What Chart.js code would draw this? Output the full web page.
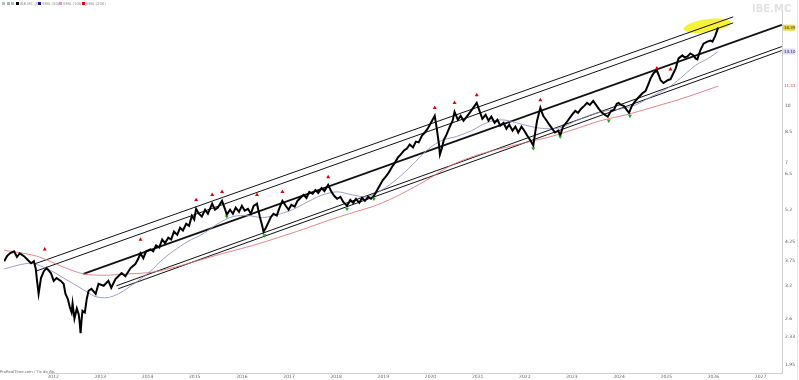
<!DOCTYPE html>
<html><head><meta charset="utf-8">
<script src="https://cdn.jsdelivr.net/npm/chart.js@4.4.1/dist/chart.umd.min.js"></script>
<style>
html,body{margin:0;padding:0;background:#fff;}
#wrap{position:relative;width:799px;height:380px;overflow:hidden;background:#fff;}
#c{position:absolute;left:0;top:0;}
.lg{position:absolute;top:1px;font:3.8px "DejaVu Sans",sans-serif;color:#888;white-space:nowrap;line-height:6px;}
.sq{position:absolute;top:2px;width:3px;height:3px;}
#wm{position:absolute;left:752px;top:3px;font:bold 10px "DejaVu Sans",sans-serif;color:#e2e2e2;}
#src{position:absolute;left:0;top:369px;width:47px;height:6px;background:#fff;font:3.8px "DejaVu Sans",sans-serif;color:#666;line-height:6px;white-space:nowrap;}
</style></head>
<body><div id="wrap">
<canvas id="c" width="799" height="380"></canvas>
<div class="sq" style="left:2px;background:#bbb"></div>
<div class="sq" style="left:7px;background:#9cb8a8"></div>
<div class="sq" style="left:11px;background:#bbb"></div>
<div class="sq" style="left:16px;background:#000"></div><div class="lg" style="left:20px">IBE.MC (W)</div>
<div class="sq" style="left:38px;background:#1a1a8c"></div><div class="lg" style="left:42px">SMA (50)</div>
<div class="sq" style="left:59px;background:#f08ad0"></div><div class="lg" style="left:63px">SMA (100)</div>
<div class="sq" style="left:82px;background:#e00000"></div><div class="lg" style="left:86px">SMA (200)</div>
<div id="wm">IBE.MC</div>
<div id="src">ProRealTime.com / Tic de Ab.</div>
</div>
<script>
// ---- x axis (years) and y axis (log price) tick labels ----
const years = [2012,2013,2014,2015,2016,2017,2018,2019,2020,2021,2022,2023,2024,2025,2026,2027];
const yTicks = [10, 8.5, 7, 6.5, 5.2, 4.25, 3.75, 3.2, 2.6, 2.33, 1.95];

// ---- weekly price (decimal year / value) ----
const priceDates = [
2010.96,2011.02,2011.08,2011.17,2011.23,2011.29,2011.38,2011.44,2011.53,2011.59,2011.63,2011.65,2011.69,2011.74,2011.80,2011.86,2011.95,
2012.01,2012.07,2012.16,2012.22,2012.26,2012.31,2012.35,2012.39,2012.41,2012.45,2012.50,2012.54,2012.56,2012.58,2012.60,2012.62,2012.67,2012.71,2012.75,2012.81,2012.90,2012.96,
2013.07,2013.17,2013.23,2013.32,2013.38,2013.45,2013.53,2013.64,2013.74,2013.80,2013.85,2013.91,2013.97,
2014.06,2014.12,2014.18,2014.25,2014.31,2014.37,2014.44,2014.50,2014.56,2014.63,2014.69,2014.75,2014.82,2014.88,2014.94,2014.99,
2015.03,2015.09,2015.15,2015.22,2015.28,2015.37,2015.43,2015.49,2015.58,2015.64,2015.68,2015.75,2015.81,2015.87,2015.94,
2016.00,2016.06,2016.13,2016.19,2016.25,2016.32,2016.38,2016.42,2016.46,2016.51,2016.55,2016.61,2016.67,2016.74,2016.80,2016.86,2016.93,2016.99,
2017.05,2017.12,2017.18,2017.24,2017.31,2017.37,2017.43,2017.50,2017.56,2017.62,2017.69,2017.75,2017.83,2017.90,2017.96,
2018.02,2018.09,2018.15,2018.23,2018.30,2018.36,2018.42,2018.49,2018.55,2018.61,2018.68,2018.74,2018.80,2018.87,2018.93,2018.99,
2019.06,2019.12,2019.18,2019.25,2019.31,2019.37,2019.44,2019.50,2019.56,2019.63,2019.69,2019.75,2019.82,2019.88,2019.94,
2020.01,2020.09,2020.13,2020.18,2020.20,2020.24,2020.28,2020.34,2020.41,2020.47,2020.51,2020.58,2020.64,2020.70,2020.77,2020.83,2020.89,2020.98,
2021.04,2021.10,2021.17,2021.23,2021.29,2021.36,2021.42,2021.48,2021.55,2021.61,2021.67,2021.74,2021.80,2021.86,2021.93,2021.99,
2022.05,2022.12,2022.18,2022.22,2022.26,2022.33,2022.39,2022.45,2022.52,2022.58,2022.64,2022.71,2022.75,2022.81,2022.88,2022.94,
2023.00,2023.07,2023.13,2023.19,2023.26,2023.32,2023.38,2023.45,2023.51,2023.57,2023.64,2023.70,2023.76,2023.83,2023.89,2023.95,2023.99,
2024.04,2024.10,2024.16,2024.21,2024.27,2024.33,2024.40,2024.46,2024.50,2024.56,2024.63,2024.67,2024.73,2024.80,2024.84,2024.88,2024.94,
2025.03,2025.09,2025.13,2025.20,2025.26,2025.34,2025.39,2025.45,2025.51,2025.58,2025.62,2025.66,2025.72,2025.79,2025.87,2025.94,2025.98,
2026.04,2026.10];
const priceValues = [
3.75,3.87,3.94,3.99,3.85,3.94,3.87,3.80,3.70,3.75,3.57,3.37,3.05,3.37,3.52,3.59,3.48,
3.31,3.37,3.31,3.25,3.05,2.95,2.81,2.71,2.87,2.61,2.78,2.68,2.55,2.38,2.58,2.74,2.71,2.95,3.11,3.15,3.05,3.25,
3.21,3.31,3.17,3.35,3.41,3.48,3.41,3.59,3.68,3.80,3.94,3.82,3.99,
4.04,3.99,4.14,4.09,4.30,4.20,4.35,4.30,4.52,4.43,4.63,4.55,4.75,4.69,5.00,4.88,
5.22,5.06,4.97,5.19,5.06,5.39,5.19,5.26,5.49,5.22,5.03,5.19,5.06,5.26,5.12,
5.32,5.16,5.22,5.06,5.32,5.39,4.97,4.75,4.52,4.63,4.75,4.94,5.06,5.00,5.26,5.49,5.32,5.19,
5.35,5.29,5.49,5.59,5.70,5.59,5.81,5.74,5.88,5.77,5.95,5.84,6.07,5.81,5.66,
5.56,5.63,5.45,5.32,5.52,5.42,5.56,5.42,5.59,5.49,5.63,5.56,5.66,5.88,6.07,6.26,
6.42,6.58,6.79,7.00,7.22,7.36,7.55,7.64,7.84,7.69,7.98,7.94,8.29,8.45,8.66,
8.99,9.39,8.72,7.84,7.36,7.64,8.04,8.34,8.77,9.11,9.63,9.16,9.39,9.11,9.34,9.57,9.81,10.19,
9.69,9.22,9.45,9.11,9.34,8.99,9.16,8.83,8.99,8.66,8.88,8.55,8.77,8.45,8.77,8.55,
8.29,8.04,7.79,8.45,9.11,9.88,9.39,9.16,8.88,8.66,8.45,8.55,8.29,8.77,8.99,9.22,
9.45,9.69,9.57,9.81,10.00,10.19,10.06,10.32,10.06,9.81,9.57,9.45,9.34,9.69,9.75,10.13,10.19,
10.06,10.00,9.75,9.57,10.00,10.25,10.51,10.71,10.85,10.98,11.55,11.91,12.29,12.52,12.14,11.76,11.55,
11.76,11.84,12.14,12.68,13.50,13.76,13.59,13.67,13.93,13.76,13.50,13.42,14.19,14.82,15.01,15.10,15.01,
15.59,16.39];

// ---- moving averages ----
const smaShortDates = [2010.96,2011.27,2011.53,2011.80,2012.01,2012.22,2012.43,2012.64,2012.86,2013.00,2013.17,2013.38,2013.59,2013.80,2014.06,2014.33,2014.54,2014.86,2015.18,2015.49,2015.81,2016.13,2016.44,2016.76,2017.07,2017.39,2017.71,2018.02,2018.34,2018.66,2018.97,2019.29,2019.61,2019.92,2020.24,2020.55,2020.87,2021.19,2021.50,2021.82,2022.14,2022.45,2022.77,2023.09,2023.40,2023.72,2024.04,2024.35,2024.67,2025.03,2025.30,2025.62,2025.89,2026.10];
const smaShortValues = [3.57,3.66,3.70,3.61,3.50,3.37,3.25,3.13,3.01,2.98,2.98,3.05,3.17,3.31,3.52,3.80,3.99,4.25,4.46,4.75,4.97,5.00,4.94,5.03,5.19,5.45,5.70,5.81,5.70,5.63,5.88,6.30,6.88,7.55,8.04,8.24,8.55,8.99,9.16,8.99,8.77,8.66,8.72,9.11,9.45,9.69,9.81,10.06,10.58,11.19,11.91,12.92,13.50,14.10];
const smaLongDates = [2010.96,2011.65,2012.22,2012.64,2013.07,2013.59,2014.12,2014.65,2015.18,2015.70,2016.23,2016.76,2017.29,2017.81,2018.34,2018.87,2019.39,2019.92,2020.45,2020.98,2021.50,2022.03,2022.56,2023.09,2023.61,2024.14,2024.67,2025.37,2026.10];
const smaLongValues = [4.02,3.87,3.61,3.46,3.43,3.46,3.50,3.63,3.80,3.97,4.14,4.35,4.58,4.84,5.09,5.35,5.74,6.26,6.88,7.32,7.64,7.94,8.24,8.66,9.11,9.45,9.88,10.51,11.33];

// ---- trend channel lines (start / end) ----
const lineStartDates  = [2011.59, 2011.63, 2012.64, 2013.34, 2013.38];
const lineStartValues = [3.68, 3.52, 3.46, 3.21, 3.15];
const lineEndDates    = [2026.42, 2026.42, 2027.45, 2027.45, 2027.45];
const lineEndValues   = [17.55, 16.90, 16.69, 14.55, 14.19];

// ---- signals ----
const sellDates  = [2011.82,2013.85,2015.03,2015.37,2015.58,2016.32,2016.86,2017.83,2020.09,2020.51,2020.98,2022.33,2024.80,2025.09];
const sellValues = [4.04,4.30,5.52,5.70,5.81,5.70,5.81,6.38,9.88,10.19,10.71,10.38,12.68,12.60];
const buyDates   = [2015.68,2016.48,2018.23,2018.80,2022.18,2022.75,2023.78,2024.23];
const buyValues  = [4.97,4.41,5.22,5.56,7.64,8.24,9.11,9.39];

// ---- highlight zone ----
const highlightDate = 2025.87;
const highlightValue = 16.59;

const pts = (d, v) => d.map((t, i) => ({x: t, y: v[i]}));
const lineWidths = [1, 1, 1.7, 1, 1];

const datasets = [
  {label:'sell', data: pts(sellDates, sellValues), showLine:false, pointStyle:'triangle', pointRadius:2.3, pointBackgroundColor:'#e00000', pointBorderWidth:0, order:0},
  {label:'buy', data: pts(buyDates, buyValues), showLine:false, pointStyle:'triangle', pointRotation:180, pointRadius:2.3, pointBackgroundColor:'#1fa01f', pointBorderWidth:0, order:0},
  {label:'price', data: pts(priceDates, priceValues), borderColor:'#000', borderWidth:2, pointRadius:0, tension:0, order:1},
  {label:'smaShort', data: pts(smaShortDates, smaShortValues), borderColor:'rgba(140,140,200,0.85)', borderWidth:1, pointRadius:0, tension:0.3, order:2},
  {label:'smaLong', data: pts(smaLongDates, smaLongValues), borderColor:'rgba(225,110,120,0.85)', borderWidth:1, pointRadius:0, tension:0.3, order:2}
];
lineStartDates.forEach((d, i) => {
  datasets.push({label:'ch'+i, data:[{x:d, y:lineStartValues[i]}, {x:lineEndDates[i], y:lineEndValues[i]}],
    borderColor:'#111', borderWidth:lineWidths[i], pointRadius:0, order:3});
});

const overlay = {
  id:'overlay',
  beforeDatasetsDraw(chart){
    const {ctx, scales:{x, y}} = chart;
    const cx = x.getPixelForValue(highlightDate), cy = y.getPixelForValue(highlightValue);
    ctx.save();
    ctx.fillStyle = 'rgba(247,241,45,0.95)';
    ctx.beginPath(); ctx.ellipse(cx, cy, 24, 6.5, -0.14, 0, Math.PI*2); ctx.fill();
    ctx.restore();
  },
  afterDraw(chart){
    const {ctx, scales:{y}, chartArea} = chart;
    const left = chartArea.right + 1;
    const tag = (val, bg, fg) => {
      const py = y.getPixelForValue(val);
      ctx.save();
      if (bg) { ctx.fillStyle = bg; ctx.fillRect(left, py - 3, 12, 6); }
      ctx.fillStyle = fg; ctx.font = '4px "DejaVu Sans"'; ctx.textBaseline = 'middle';
      ctx.fillText(val.toFixed(2), left + 1, py);
      ctx.restore();
    };
    tag(priceValues[priceValues.length-1], '#e8d83a', '#333');
    tag(smaShortValues[smaShortValues.length-1], '#d9d9ef', '#22226a');
    tag(smaLongValues[smaLongValues.length-1], null, '#d04040');
    ctx.save(); ctx.strokeStyle = '#e4e4e4'; ctx.beginPath(); ctx.moveTo(797.5, 0); ctx.lineTo(797.5, 380); ctx.stroke(); ctx.restore();
  }
};

new Chart(document.getElementById('c'), {
  type:'line',
  data:{datasets},
  options:{
    responsive:false, animation:false, devicePixelRatio:1,
    layout:{padding:0},
    plugins:{legend:{display:false}, tooltip:{enabled:false}},
    scales:{
      x:{type:'linear', min:2010.956, max:2027.454, bounds:'data',
        afterBuildTicks:s => { s.ticks = years.map(v => ({value:v})); },
        afterFit:s => { s.height = 7; s.paddingLeft = 0; s.paddingRight = 0; },
        grid:{display:false, drawTicks:false}, border:{display:true, color:'#d0d0d0'},
        ticks:{autoSkip:false, maxRotation:0, padding:1, font:{size:4.5, family:'DejaVu Sans'}, color:'#666', callback:v => String(v)}},
      y:{type:'logarithmic', position:'right', min:1.850, max:19.035, bounds:'data',
        afterBuildTicks:s => { s.ticks = yTicks.map(v => ({value:v})); },
        afterFit:s => { s.width = 17; s.paddingTop = 0; s.paddingBottom = 0; },
        grid:{display:false, drawTicks:false}, border:{display:true, color:'#d0d0d0'},
        ticks:{autoSkip:false, padding:3, font:{size:4.5, family:'DejaVu Sans'}, color:'#555', callback:v => String(v)}}
    }
  },
  plugins:[overlay]
});
</script>
</body></html>
